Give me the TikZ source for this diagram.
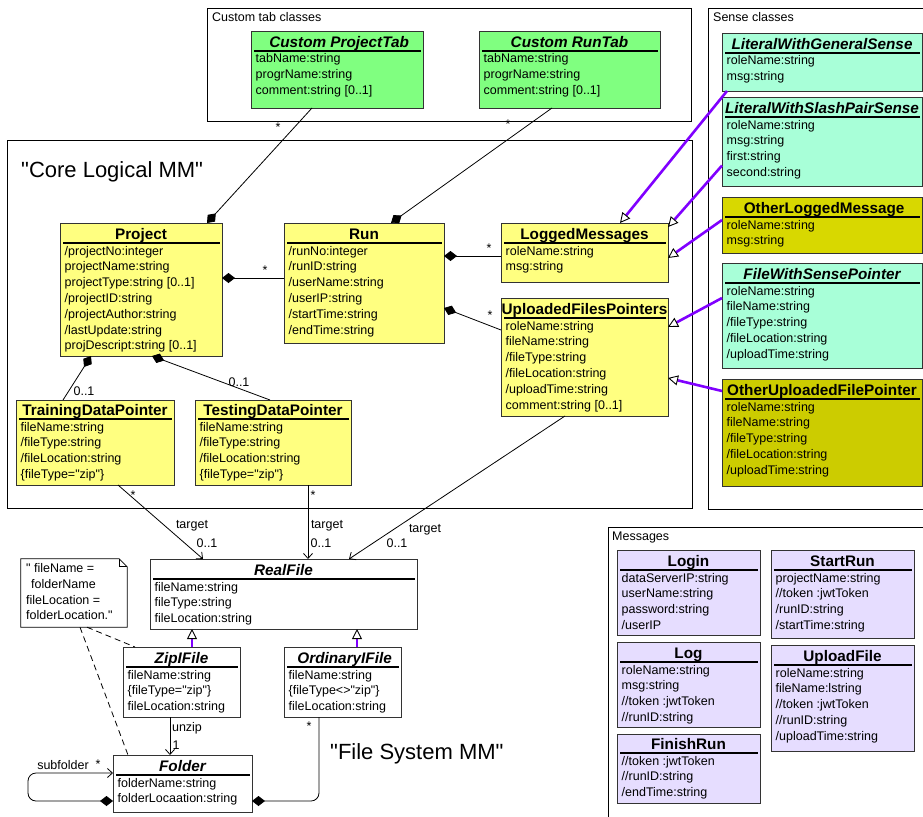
\documentclass[tikz,border=0pt]{standalone}
\usepackage{fontspec}
\setmainfont{Liberation Sans}
\usetikzlibrary{arrows.meta,calc}

\definecolor{tabgreen}{HTML}{80FF80}
\definecolor{sensemint}{HTML}{A8FFD8}
\definecolor{olivea}{HTML}{D8D800}
\definecolor{oliveb}{HTML}{CCCC00}
\definecolor{coreyellow}{HTML}{FFFF80}
\definecolor{msglilac}{HTML}{E6DDFF}
\definecolor{genviolet}{HTML}{8000FF}

% straight double quote (the TeX mapping would curl a typed one)
\newcommand\dq{\textquotedbl}

\tikzset{
  clsbox/.style={draw=black!80, line width=0.9pt, inner sep=0pt, outer sep=0pt},
  ttl/.style={font=\fontsize{15.3}{18}\selectfont\bfseries, inner sep=0pt, anchor=base},
  attr/.style={font=\fontsize{12.5}{15}\selectfont, inner sep=0pt, anchor=base west},
  sepline/.style={line width=1.4pt},
  lbl/.style={font=\fontsize{12.5}{15}\selectfont, inner sep=0pt},
  bigtitle/.style={font=\fontsize{22}{26}\selectfont, inner sep=0pt, anchor=base west},
  grpframe/.style={draw=black, line width=0.9pt, inner sep=0pt, outer sep=0pt},
  assoc/.style={line width=0.8pt},
  comp/.style={assoc, {Diamond[length=13pt,width=10pt]}-},
  nav/.style={assoc, -{Straight Barb[length=5pt,width=9pt]}},
  gen/.style={genviolet, line width=2.6pt,
    -{Triangle[length=10pt,width=10pt,fill=white,color=black,line width=0.9pt]}},
}

% class box: name, x1, y1, x2, y2, separator y, fill, title, attribute list
\newcommand\umlclass[9]{%
  \node[clsbox, fill=#7, minimum width={(#4)-(#2)}, minimum height={(#5)-(#3)}]
    (#1) at ({((#2)+(#4))/2},{((#3)+(#5))/2}) {};
  \node[ttl] (#1-title) at ({((#2)+(#4))/2},{(#6)-3.5}) {#8};
  \draw[sepline] ({(#2)+3},#6) -- ({(#4)-2},#6);
  \foreach \a [count=\i from 0] in {#9} {
    \node[attr] (#1-attr\i) at ({(#2)+4.5},{(#6)+12+15.8*\i}) {\a};
  }
}

\begin{document}
\begin{tikzpicture}[x=1pt,y=-1pt]
\useasboundingbox (0,0) rectangle (923,816);
\fill[white] (0,0) rectangle (923,816);
\clip (0,0) rectangle (923,816);

% package frames
\node[grpframe, minimum width=484, minimum height=113] (tabgrp) at (449,64.5) {};
\node[lbl, anchor=base west] (tabgrp-name) at ([xshift=5pt,yshift=-14pt]tabgrp.north west) {Custom tab classes};
\node[grpframe, minimum width=227, minimum height=501] (sensegrp) at (821.5,258.5) {};
\node[lbl, anchor=base west] (sensegrp-name) at ([xshift=5pt,yshift=-14pt]sensegrp.north west) {Sense classes};
\node[grpframe, minimum width=685, minimum height=368] (coregrp) at (349.5,324) {};
\node[grpframe, minimum width=327, minimum height=303] (msggrp) at (771.5,678.5) {};
\node[lbl, anchor=base west] (msggrp-name) at ([xshift=4pt,yshift=-13pt]msggrp.north west) {Messages};

\node[bigtitle] (coretitle) at (21,177) {\dq Core Logical MM\dq};
\node[bigtitle] (fstitle) at (330,759) {\dq File System MM\dq};

% custom tabs
\umlclass{ptab}{251}{31}{423}{108}{51}{tabgreen}{\itshape\ Custom ProjectTab}{tabName:string, progrName:string, comment:string [0..1]}
\umlclass{rtab}{479}{31}{660}{108}{51}{tabgreen}{\itshape Custom RunTab}{tabName:string, progrName:string, comment:string [0..1]}

% sense classes
\umlclass{lwgs}{722}{33}{922}{91}{53}{sensemint}{\itshape LiteralWithGeneralSense}{roleName:string, msg:string}
\umlclass{lwsp}{722}{97}{922}{186}{117}{sensemint}{\itshape LiteralWithSlashPairSense}{roleName:string, msg:string, first:string, second:string}
\umlclass{olm}{722}{197}{922}{253}{217}{olivea}{\ OtherLoggedMessage}{roleName:string, msg:string}
\umlclass{fwsp}{722}{263}{922}{368}{283}{sensemint}{\itshape FileWithSensePointer}{roleName:string, fileName:string, /fileType:string, /fileLocation:string, /uploadTime:string}
\umlclass{oufp}{722}{379}{922}{486}{399}{oliveb}{OtherUploadedFilePointer}{roleName:string, fileName:string, /fileType:string, /fileLocation:string, /uploadTime:string}

% core logical classes
\umlclass{project}{60}{223}{222}{356}{243}{coreyellow}{Project}{/projectNo:integer, projectName:string, projectType:string [0..1], /projectID:string, /projectAuthor:string, /lastUpdate:string, projDescript:string [0..1]}
\umlclass{run}{284}{223}{444}{343}{243}{coreyellow}{Run}{/runNo:integer, /runID:string, /userName:string, /userIP:string, /startTime:string, /endTime:string}
\umlclass{logged}{501}{223}{668}{282}{243}{coreyellow}{LoggedMessages}{roleName:string, msg:string}
\umlclass{ufp}{501}{298}{668}{416}{318}{coreyellow}{UploadedFilesPointers}{roleName:string, fileName:string, /fileType:string, /fileLocation:string, /uploadTime:string, comment:string [0..1]}
\umlclass{tdp}{16}{400}{174}{485}{419}{coreyellow}{TrainingDataPointer}{fileName:string, /fileType:string, /fileLocation:string, \{fileType=\dq zip\dq\}}
\umlclass{tedp}{195}{400}{351}{485}{419}{coreyellow}{TestingDataPointer}{fileName:string, /fileType:string, /fileLocation:string, \{fileType=\dq zip\dq\}}

% file system classes
\umlclass{realfile}{150}{559}{417}{629}{579}{white}{\itshape RealFile}{fileName:string, fileType:string, fileLocation:string}
\umlclass{zip}{123}{647}{240}{717}{667}{white}{\itshape ZipIFile}{fileName:string, \{fileType=\dq zip\dq\}, fileLocation:string}
\umlclass{ord}{284}{647}{401}{717}{667}{white}{\itshape\ OrdinaryIFile}{fileName:string, \{fileType<>\dq zip\dq\}, fileLocation:string}
\umlclass{folder}{113}{755}{252}{812}{775}{white}{\itshape Folder}{folderName:string, folderLocaation:string}

% messages
\umlclass{login}{617}{550}{760}{635}{570}{msglilac}{Login}{dataServerIP:string, userName:string, password:string, /userIP}
\umlclass{log}{617}{642}{760}{727}{662}{msglilac}{Log}{roleName:string, msg:string, //token :jwtToken, //runID:string}
\umlclass{finish}{617}{734}{760}{803}{753}{msglilac}{FinishRun}{//token :jwtToken, //runID:string, /endTime:string}
\umlclass{startrun}{771}{550}{914}{638}{570}{msglilac}{StartRun}{projectName:string, //token :jwtToken, /runID:string, /startTime:string}
\umlclass{upload}{771}{645}{914}{751}{665}{msglilac}{UploadFile}{roleName:string, fileName:lstring, //token :jwtToken, //runID:string, /uploadTime:string}

% note
\node[minimum width=106, minimum height=68, inner sep=0pt] (note) at (74,593) {};
\draw[fill=white, line width=0.8pt] (note.north west) -- ([xshift=-8pt]note.north east)
  -- ([yshift=-8pt]note.north east) -- (note.south east) -- (note.south west) -- cycle;
\draw[line width=0.8pt] ([xshift=-8pt]note.north east) |- ([yshift=-8pt]note.north east);
\node[attr] (note-l1) at (26,572.5) {\dq\ fileName =};
\node[attr] (note-l2) at (31,588.3) {folderName};
\node[attr] (note-l3) at (26,604.1) {fileLocation =};
\node[attr] (note-l4) at (26,619.9) {folderLocation.\dq};

% compositions
\draw[comp] ([xshift=66pt]project.north) -- ([xshift=-25pt]ptab.south);
\draw[comp] ([xshift=27pt]run.north) -- ([xshift=-17.5pt]rtab.south);
\draw[comp] ([yshift=11.5pt]project.east) -- ([yshift=5pt]run.west);
\draw[comp] ([yshift=27pt]run.east) -- ([yshift=-3.5pt]logged.west);
\draw[comp] ([yshift=-25pt]run.east) -- ([yshift=27pt]ufp.west);
\draw[comp] ([xshift=-50pt]project.south) -- ([xshift=-32pt]tdp.north);
\draw[comp] ([xshift=11pt]project.south) -- ([xshift=-3pt]tedp.north);
\draw[comp, rounded corners=8pt] ([yshift=-17.5pt]folder.east) -| ([xshift=-23.5pt]ord.south);
\draw[assoc, {Diamond[length=13pt,width=10pt]}-{Straight Barb[length=5pt,width=9pt]}, rounded corners=8pt]
  ([yshift=-17.5pt]folder.west) -- ++(-85,0) |- ([yshift=10.5pt]folder.west);

% navigable associations
\draw[nav] ([xshift=23pt]tdp.south) -- ([xshift=53pt]realfile.north west);
\draw[nav] ([xshift=35pt]tedp.south) -- ([xshift=35pt]tedp.south |- realfile.north);
\draw[nav] ([xshift=-19.5pt]ufp.south) -- ([xshift=-68pt]realfile.north east);
\draw[nav] ([xshift=-11.5pt]zip.south) -- ([xshift=-11.5pt]zip.south |- folder.north);

% generalizations
\draw[gen] ([xshift=5pt]lwgs.south west) -- ([xshift=119pt]logged.north west);
\draw[gen] ([yshift=-24pt]lwsp.west) -- ([yshift=-4pt]logged.north east);
\draw[gen] ([yshift=-23pt]olm.north west) -- ([yshift=-5.5pt]logged.east);
\draw[gen] ([yshift=-35pt]fwsp.north west) -- ([yshift=-29pt]ufp.north east);
\draw[gen] ([yshift=-12pt]oufp.north west) -- ([yshift=-21pt]ufp.east);
\draw[gen] ([xshift=10.5pt]zip.north) -- ([xshift=10.5pt]zip.north |- realfile.south);
\draw[gen] ([xshift=14.5pt]ord.north) -- ([xshift=14.5pt]ord.north |- realfile.south);

% note anchors
\draw[assoc, dash pattern=on 6pt off 4pt] ([xshift=6pt]note.south) -- ([xshift=15pt]folder.north west);
\draw[assoc, dash pattern=on 6pt off 4pt] ([xshift=13pt]note.south) -- ([xshift=12pt]zip.north west);

% multiplicities and role names
\node[lbl] (m-ptab) at (278,127) {*};
\node[lbl] (m-rtab) at (508,124) {*};
\node[lbl] (m-run) at (265,270) {*};
\node[lbl] (m-logged) at (489,248) {*};
\node[lbl] (m-ufp) at (490,315) {*};
\node[lbl] (m-tdp) at (84,391) {0..1};
\node[lbl] (m-tedp) at (239,382) {0..1};
\node[lbl] (m-tdp-src) at (133,495) {*};
\node[lbl] (r-tdp) at (192,526) {target};
\node[lbl] (m-tdp-dst) at (207,543) {0..1};
\node[lbl] (m-tedp-src) at (313,495) {*};
\node[lbl] (r-tedp) at (327,526) {target};
\node[lbl] (m-tedp-dst) at (321,543) {0..1};
\node[lbl] (r-ufp) at (425,530) {target};
\node[lbl] (m-ufp-dst) at (397,543) {0..1};
\node[lbl] (r-unzip) at (187,728) {unzip};
\node[lbl] (m-unzip) at (176,745) {1};
\node[lbl] (m-ord) at (309,726) {*};
\node[lbl] (r-sub) at (63,765) {subfolder};
\node[lbl] (m-sub) at (98,764) {*};
\end{tikzpicture}
\end{document}
